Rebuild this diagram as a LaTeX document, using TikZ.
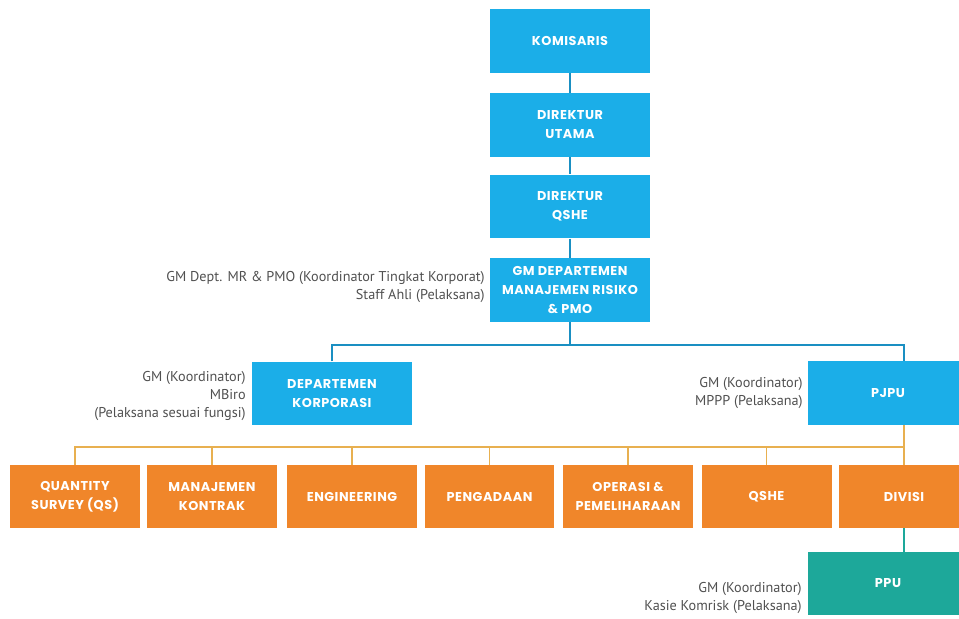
\documentclass[tikz,border=0pt]{standalone}
\usepackage{fontspec}
\setmainfont{PT Sans}
\newfontfamily\kotakfont[LetterSpace=4]{Poppins}
\usepackage{xcolor}
\definecolor{biru}{HTML}{1BAEE8}
\definecolor{garisbiru}{HTML}{1A8FC2}
\definecolor{oranye}{HTML}{F0862A}
\definecolor{garisoranye}{HTML}{E8B050}
\definecolor{toska}{HTML}{1DA89A}
\definecolor{abu}{HTML}{505050}

\begin{document}
\begin{tikzpicture}[x=0.02cm,y=-0.02cm,
  kotak/.style={text=white,font=\kotakfont\bfseries\fontsize{7.3}{10.8}\selectfont,align=center,inner sep=0pt},
  kotakbiru/.style={kotak,fill=biru,minimum width=3.2cm,minimum height=1.27cm},
  kotakoranye/.style={kotak,fill=oranye,minimum width=2.6cm,minimum height=1.26cm},
  kotaktoska/.style={kotak,fill=toska,minimum width=3.2cm,minimum height=1.26cm},
  catatan/.style={anchor=east,align=right,text=abu,font=\fontsize{8.1}{10.3}\selectfont,inner sep=0pt},
  hub/.style={line width=1.1pt}]
\clip (0,0) rectangle (959,618);
\node[kotakbiru] (kom) at (570,41) {KOMISARIS};
\node[kotakbiru] (du) at (570,125) {DIREKTUR\\UTAMA};
\node[kotakbiru] (dq) at (570,206.5) {DIREKTUR\\QSHE};
\node[kotakbiru] (gm) at (570,290) {GM DEPARTEMEN\\MANAJEMEN RISIKO\\\& PMO};
\node[kotakbiru] (dk) at (332,393.5) {DEPARTEMEN\\KORPORASI};
\node[kotakbiru] (pjpu) at (888,393) {PJPU};
\foreach \nama/\x/\teks in {qs/75/{QUANTITY\\SURVEY (QS)},mk/212/{MANAJEMEN\\KONTRAK},eng/352/ENGINEERING,
    peng/489.5/PENGADAAN,op/628/{OPERASI \&\\PEMELIHARAAN},qshe/766.5/QSHE,divisi/904/DIVISI}
  \node[kotakoranye] (\nama) at (\x,496.5) {\teks};
\node[kotaktoska] (ppu) at (888,583.5) {PPU};

\node[catatan] (cgm) at (485,287) {GM Dept. MR \& PMO (Koordinator Tingkat Korporat)\\Staff Ahli (Pelaksana)};
\node[catatan] (cdk) at (246,396) {GM (Koordinator)\\MBiro\\(Pelaksana sesuai fungsi)};
\node[catatan] (cpjpu) at (803,393) {GM (Koordinator)\\MPPP (Pelaksana)};
\node[catatan] (cppu) at (802,598) {GM (Koordinator)\\Kasie Komrisk (Pelaksana)};

\draw[hub,garisbiru] (kom) -- (du) (du) -- (dq) (dq) -- (gm);
\draw[hub,garisbiru] (gm.south) -- (570,345) coordinate (bbus);
\draw[hub,garisbiru] (dk.north) |- (bbus) -| (pjpu.north -| divisi.north);
\coordinate (obus) at (904,447);
\draw[hub,garisoranye] (pjpu.south -| divisi.north) -- (divisi.north);
\draw[hub,garisoranye] (qs.north) -- (qs.north |- obus) -- (obus);
\foreach \nama in {mk,eng,peng,op,qshe}
  \draw[hub,garisoranye] (\nama.north) -- (\nama.north |- obus);
\draw[hub,toska] (divisi.south) -- (ppu.north -| divisi.south);
\end{tikzpicture}
\end{document}
